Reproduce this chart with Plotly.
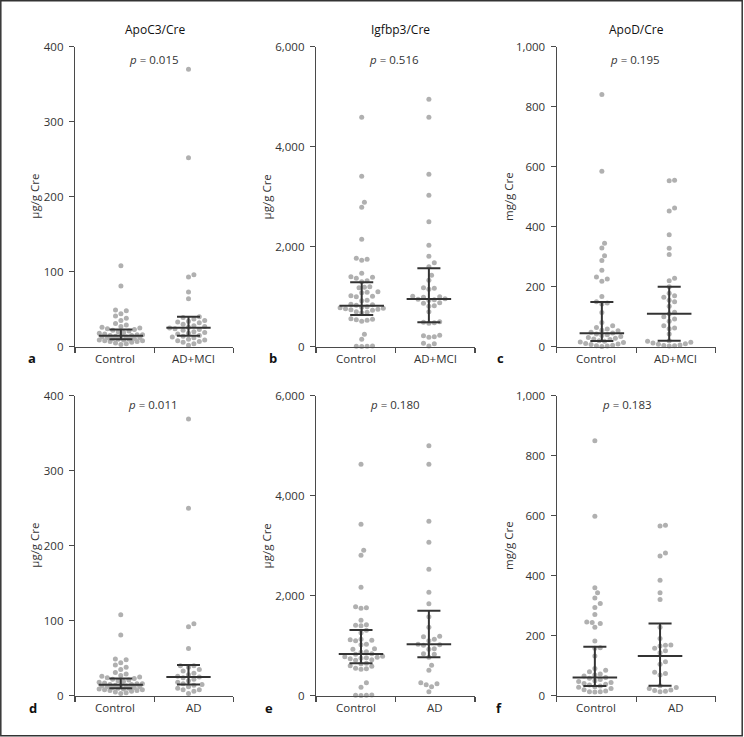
import plotly.graph_objects as go

W, H = 744, 737

# ---------------- data ----------------
titles = ["ApoC3/Cre", "Igfbp3/Cre", "ApoD/Cre"]
panel_letters = ["a", "b", "c", "d", "e", "f"]
y_titles = ["µg/g Cre", "µg/g Cre", "mg/g Cre", "µg/g Cre", "µg/g Cre", "mg/g Cre"]
groups_top = ["Control", "AD+MCI"]
groups_bottom = ["Control", "AD"]
p_values = ["0.015", "0.516", "0.195", "0.011", "0.180", "0.183"]

ticks_apoc3 = [0, 100, 200, 300, 400]
ticktext_apoc3 = ["0", "100", "200", "300", "400"]
ticks_igfbp3 = [0, 2000, 4000, 6000]
ticktext_igfbp3 = ["0", "2,000", "4,000", "6,000"]
ticks_apod = [0, 200, 400, 600, 800, 1000]
ticktext_apod = ["0", "200", "400", "600", "800", "1,000"]

# panel a / d : ApoC3/Cre
ctrl_apoc3 = [108, 81, 49, 48, 44, 41, 38, 35, 31, 29, 27, 26, 25, 24, 23, 22, 21, 20, 19, 18,
              17, 16, 16, 15, 15, 14, 14, 13, 13, 12, 12, 11, 11, 10, 10, 9, 9, 8, 8, 7, 7, 6, 5, 4, 3]
admci_apoc3 = [370, 252, 96, 93, 73, 64, 40, 39, 37, 35, 34, 33, 32, 30, 28, 27, 26, 25, 24, 23,
               22, 20, 19, 18, 17, 15, 14, 13, 12, 10, 9, 8, 7, 6, 4, 2]
ad_apoc3 = [369, 250, 96, 92, 63, 40, 40, 38, 35, 33, 30, 28, 26, 25, 24, 22, 20, 18, 16, 15,
            14, 12, 10, 8, 8, 6, 3]

# panel b / e : Igfbp3/Cre
ctrl_igfbp3_b = [4590, 3410, 2890, 2790, 2150, 1770, 1750, 1730, 1470, 1400, 1390, 1370, 1320, 1300,
                 1200, 1190, 1180, 1100, 1090, 1080, 1020, 1010, 1000, 930, 920, 850, 840, 830, 800,
                 790, 780, 770, 760, 750, 740, 730, 700, 690, 680, 560, 550, 540, 530, 510, 250, 150,
                 15, 10, 8, 5]
admci_igfbp3 = [4950, 4590, 3450, 3030, 2500, 2030, 1810, 1680, 1600, 1430, 1330, 1180, 1170, 1150,
                1010, 1000, 990, 960, 950, 940, 930, 880, 870, 820, 810, 700, 500, 490, 480, 470,
                230, 220, 200, 190, 70, 60, 15]
ctrl_igfbp3_e = [4630, 3430, 2910, 2810, 2170, 1780, 1760, 1750, 1510, 1420, 1410, 1400, 1310, 1260,
                 1130, 1120, 1110, 1100, 1030, 1020, 940, 930, 880, 870, 840, 830, 790, 780, 770, 760,
                 750, 740, 720, 710, 650, 640, 600, 590, 550, 540, 530, 260, 170, 15, 10, 8, 5]
ad_igfbp3 = [5000, 4630, 3490, 3070, 2530, 2070, 1840, 1580, 1370, 1190, 1180, 1130, 1100, 1030,
             1020, 1010, 940, 930, 840, 830, 770, 610, 510, 260, 240, 220, 180, 80]

# panel c / f : ApoD/Cre
ctrl_apod_c = [841, 585, 345, 329, 303, 287, 255, 232, 226, 218, 167, 150, 146, 142, 114, 81, 70, 64,
               59, 55, 53, 48, 46, 42, 40, 37, 34, 31, 28, 26, 24, 20, 18, 16, 14, 11, 9, 7, 5, 3, 2, 1]
admci_apod = [555, 553, 462, 452, 373, 328, 307, 228, 220, 200, 178, 170, 165, 155, 150, 135, 115,
              110, 100, 92, 85, 70, 62, 60, 42, 20, 18, 15, 12, 10, 8, 6, 4, 3, 2]
ctrl_apod_f = [850, 598, 360, 343, 326, 307, 294, 271, 246, 244, 241, 228, 182, 160, 158, 132, 91,
               85, 80, 72, 69, 66, 61, 58, 54, 50, 47, 44, 41, 38, 36, 32, 30, 28, 24, 20, 16, 13,
               13, 12]
ad_apod = [568, 566, 476, 466, 385, 343, 321, 228, 191, 169, 168, 166, 158, 150, 143, 113, 105, 78,
           74, 69, 33, 27, 24, 19, 17, 15, 13]

# median, Q1, Q3 per group (control, patient) per panel
median_ctrl = [14.7, 820, 45, 14.7, 833, 61]
q1_ctrl = [9.8, 633, 19, 9.8, 647, 32]
q3_ctrl = [23, 1287, 149, 23, 1313, 163]
median_pat = [25.3, 953, 110, 25, 1027, 132]
q1_pat = [14.7, 487, 20, 15, 767, 33]
q3_pat = [40, 1567, 200, 41, 1700, 241]

panel_ctrl = [ctrl_apoc3, ctrl_igfbp3_b, ctrl_apod_c, ctrl_apoc3, ctrl_igfbp3_e, ctrl_apod_f]
panel_pat = [admci_apoc3, admci_igfbp3, admci_apod, ad_apoc3, ad_igfbp3, ad_apod]
panel_ticks = [(ticks_apoc3, ticktext_apoc3), (ticks_igfbp3, ticktext_igfbp3), (ticks_apod, ticktext_apod)] * 2

# ---------------- layout geometry (pixels) ----------------
col_x = [(75, 233.3), (316, 475), (556.7, 715.7)]
row_y = [(46.7, 346.7), (395.7, 695.7)]
group_pos = [(0.58, 1.434), (0.575, 1.42), (0.568, 1.415),
             (0.578, 1.434), (0.566, 1.42), (0.48, 1.30)]
title_x = [154.7, 400, 636.3]
p_x = [154, 394, 634.7, 152.5, 394.5, 627]
p_y = [60, 404.3]
letter_pos = [(32, 358), (273.3, 358), (501, 358), (33, 707.5), (269.3, 707.5), (499, 707.5)]
ytitle_x = [35, 266.7, 508.3]
cat_y = [358.3, 707.3]

DOT = "#b0b0b0"
BAR = "#333333"
AX = "#4a4a4a"
FONT = "Open Sans"


def fx(x):
    return x / W


def fy(y):
    return 1 - y / H


def swarm(vals, ppu_y, ppu_x, d=5.4, cap=22.0):
    order = sorted(range(len(vals)), key=lambda i: vals[i])
    placed = []
    offs = [0.0] * len(vals)
    step = d / 2.0
    cands = [0.0]
    j = 1
    while j * step <= cap:
        cands += [j * step, -j * step]
        j += 1
    for i in order:
        yp = vals[i] * ppu_y
        chosen = None
        best, best_c = -1.0, 0.0
        for c in cands:
            md = min([((c - px) ** 2 + (yp - pyy) ** 2) for px, pyy in placed] or [1e9])
            if md >= d * d - 1e-6:
                chosen = c
                break
            if md > best:
                best, best_c = md, c
        if chosen is None:
            chosen = best_c
        placed.append((chosen, yp))
        offs[i] = chosen / ppu_x
    return offs


fig = go.Figure()
annotations = []
layout_axes = {}

for k in range(6):
    r, c = divmod(k, 3)
    x0, x1 = col_x[c]
    y0, y1 = row_y[r]
    tv, tt = panel_ticks[k]
    ymax = tv[-1]
    ppu_y = (y1 - y0) / ymax
    ppu_x = (x1 - x0) / 2.0
    xa = "x" if k == 0 else f"x{k+1}"
    ya = "y" if k == 0 else f"y{k+1}"

    for gi, vals in enumerate([panel_ctrl[k], panel_pat[k]]):
        offs = swarm(vals, ppu_y, ppu_x)
        center = group_pos[k][gi]
        fig.add_trace(go.Scatter(
            x=[center + o for o in offs], y=vals, mode="markers",
            marker=dict(size=5, color=DOT, line=dict(width=0)),
            xaxis=xa, yaxis=ya, showlegend=False, cliponaxis=False, hoverinfo="y"))

    # median + IQR bars
    bx, by = [], []
    for gi, (med, q1, q3) in enumerate([(median_ctrl[k], q1_ctrl[k], q3_ctrl[k]),
                                         (median_pat[k], q1_pat[k], q3_pat[k])]):
        cx = group_pos[k][gi]
        mw, cw = 0.28, 0.145
        bx += [cx - mw, cx + mw, None, cx, cx, None, cx - cw, cx + cw, None, cx - cw, cx + cw, None]
        by += [med, med, None, q1, q3, None, q1, q1, None, q3, q3, None]
    fig.add_trace(go.Scatter(x=bx, y=by, mode="lines", line=dict(color=BAR, width=2),
                             xaxis=xa, yaxis=ya, showlegend=False, hoverinfo="skip",
                             cliponaxis=False))

    xkey = "xaxis" if k == 0 else f"xaxis{k+1}"
    ykey = "yaxis" if k == 0 else f"yaxis{k+1}"
    layout_axes[xkey] = dict(
        domain=[fx(x0), fx(x1)], range=[0, 2], anchor=ya,
        tickmode="array", tickvals=[0, 1, 2], ticks="outside", ticklen=5,
        tickcolor=AX, tickwidth=1.2, showticklabels=False,
        showline=True, linecolor=AX, linewidth=1.2, showgrid=False, zeroline=False,
        fixedrange=True, automargin=False)
    layout_axes[ykey] = dict(
        domain=[fy(y1), fy(y0)], range=[0, ymax], anchor=xa,
        tickmode="array", tickvals=tv, ticktext=tt, ticks="outside", ticklen=5,
        ticklabelstandoff=3,
        tickcolor=AX, tickwidth=1.2, tickfont=dict(family=FONT, size=11.5, color="#333"),
        showline=True, linecolor=AX, linewidth=1.2, showgrid=False, zeroline=False,
        fixedrange=True, automargin=False)

    # texts
    gl = groups_top if r == 0 else groups_bottom
    for gi in range(2):
        cxp = x0 + (x1 - x0) * (0.25 + 0.5 * gi)
        annotations.append(dict(x=fx(cxp), y=fy(cat_y[r]), xref="paper", yref="paper",
                                text=gl[gi], showarrow=False, xanchor="center", yanchor="middle",
                                font=dict(family=FONT, size=11.5, color="#333")))
    annotations.append(dict(x=fx(p_x[k]), y=fy(p_y[r]), xref="paper", yref="paper",
                            text=f"<i>p</i> = {p_values[k]}", showarrow=False,
                            xanchor="center", yanchor="middle",
                            font=dict(family=FONT, size=11.5, color="#333")))
    lx, ly = letter_pos[k]
    annotations.append(dict(x=fx(lx), y=fy(ly), xref="paper", yref="paper",
                            text=f"<b>{panel_letters[k]}</b>", showarrow=False,
                            xanchor="center", yanchor="middle",
                            font=dict(family=FONT, size=13, color="#111")))
    annotations.append(dict(x=fx(ytitle_x[c]), y=fy((y0 + y1) / 2), xref="paper", yref="paper",
                            text=y_titles[k], showarrow=False, textangle=-90,
                            xanchor="center", yanchor="middle",
                            font=dict(family=FONT, size=11.5, color="#333")))

for c in range(3):
    annotations.append(dict(x=fx(title_x[c]), y=fy(29.3), xref="paper", yref="paper",
                            text=titles[c], showarrow=False, xanchor="center", yanchor="middle",
                            font=dict(family=FONT, size=12, color="#111")))

fig.update_layout(
    width=W, height=H, margin=dict(l=0, r=0, t=0, b=0),
    paper_bgcolor="white", plot_bgcolor="white",
    annotations=annotations,
    shapes=[dict(type="rect", xref="paper", yref="paper",
                 x0=fx(0.8), x1=fx(742.2), y0=fy(735.8), y1=fy(0.8),
                 line=dict(color="#333", width=1.5), fillcolor="rgba(0,0,0,0)")],
    **layout_axes)

fig.write_html(
    "out.html",
    config={"displayModeBar": False, "staticPlot": True},
    post_script="document.body.style.margin='0';document.body.style.padding='0';"
                "document.documentElement.style.overflow='hidden';")
